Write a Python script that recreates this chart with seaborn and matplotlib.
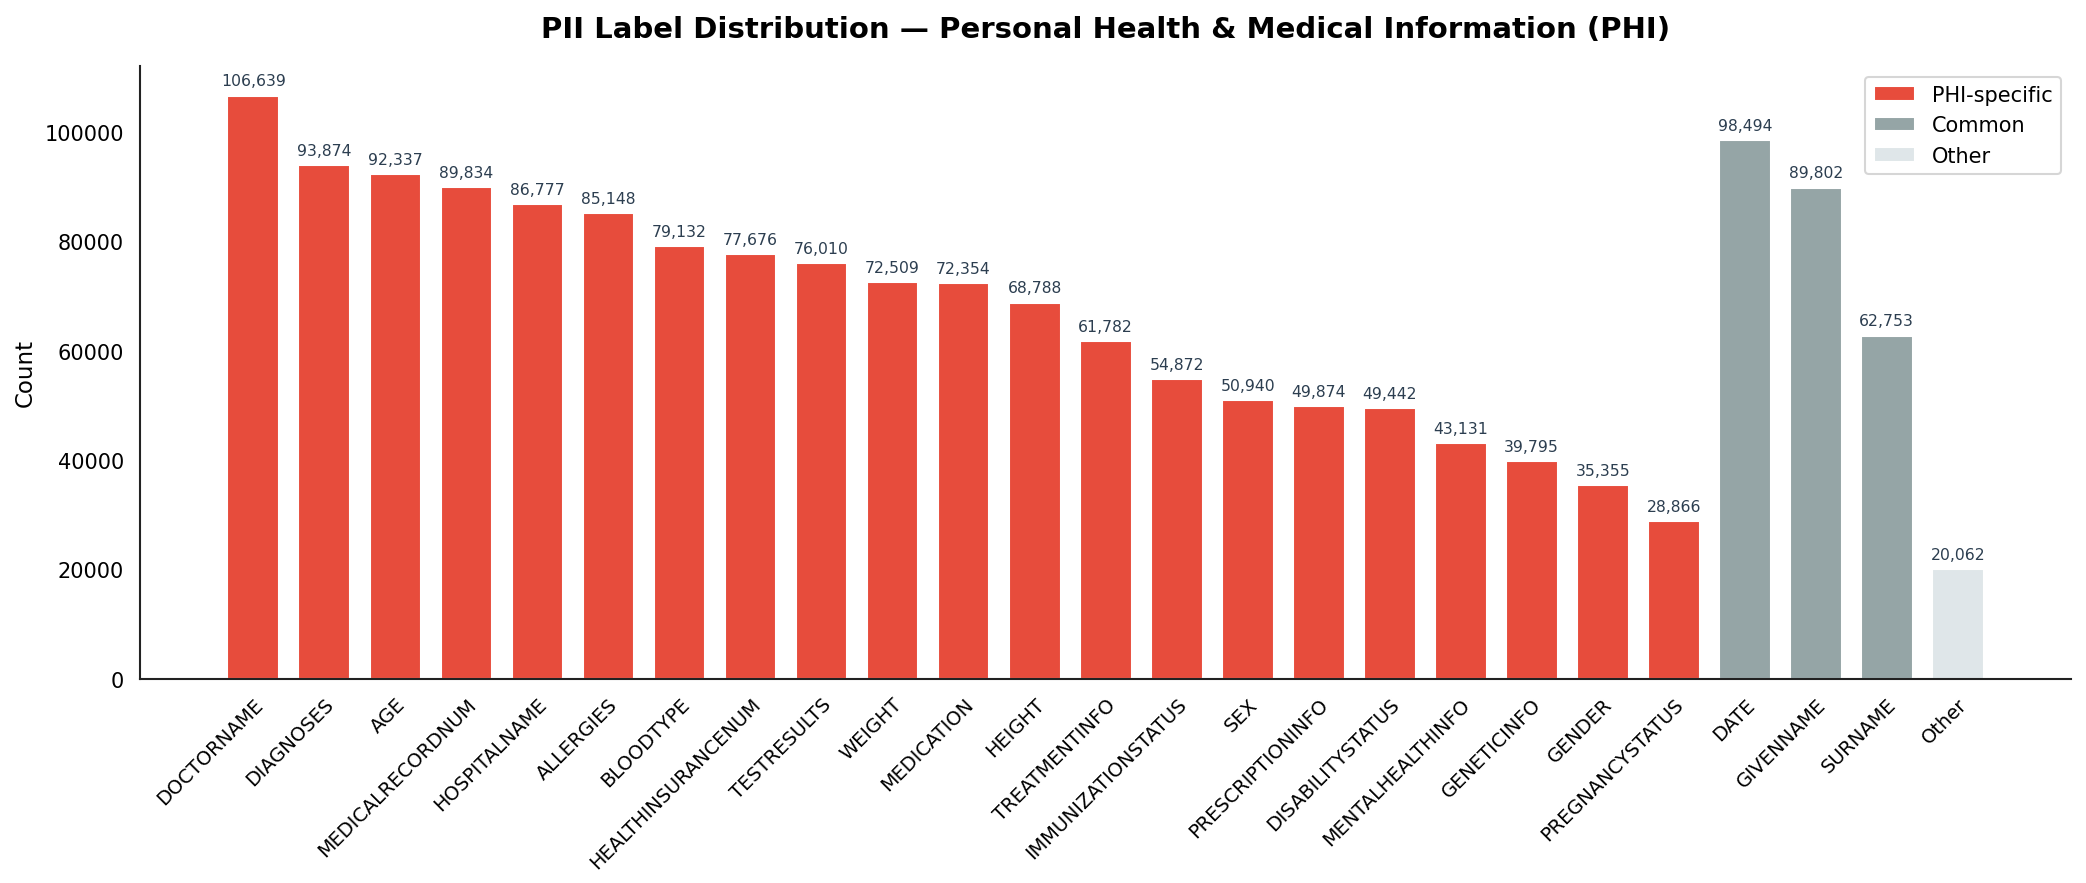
import matplotlib
matplotlib.use("Agg")
import matplotlib.pyplot as plt
import seaborn as sns
import pandas as pd

labels = ["DOCTORNAME", "DIAGNOSES", "AGE", "MEDICALRECORDNUM", "HOSPITALNAME", "ALLERGIES",
          "BLOODTYPE", "HEALTHINSURANCENUM", "TESTRESULTS", "WEIGHT", "MEDICATION", "HEIGHT",
          "TREATMENTINFO", "IMMUNIZATIONSTATUS", "SEX", "PRESCRIPTIONINFO", "DISABILITYSTATUS",
          "MENTALHEALTHINFO", "GENETICINFO", "GENDER", "PREGNANCYSTATUS", "DATE", "GIVENNAME",
          "SURNAME", "Other"]
counts = [106639, 93874, 92337, 89834, 86777, 85148, 79132, 77676, 76010, 72509, 72354, 68788,
          61782, 54872, 50940, 49874, 49442, 43131, 39795, 35355, 28866, 98494, 89802, 62753, 20062]
groups = ["PHI-specific"] * 21 + ["Common"] * 3 + ["Other"]
palette = {"PHI-specific": "#e74c3c", "Common": "#95a5a6", "Other": "#dfe6e9"}

df = pd.DataFrame({"label": labels, "count": counts, "group": groups})

sns.set_style("white")
plt.rcParams["font.family"] = ["DejaVu Sans"]
plt.rcParams["text.color"] = "black"
plt.rcParams["axes.labelcolor"] = "black"
plt.rcParams["xtick.color"] = "black"
plt.rcParams["ytick.color"] = "black"

fig, ax = plt.subplots(figsize=(13.907, 5.893), dpi=150)
fig.subplots_adjust(left=0.067, right=0.993, top=0.924, bottom=0.231)

sns.barplot(data=df, x="label", y="count", hue="group", palette=palette, dodge=False,
            width=0.73, saturation=1, ax=ax, order=labels,
            hue_order=["PHI-specific", "Common", "Other"])

for i, v in enumerate(counts):
    ax.text(i, v + 1300, f"{v:,}", ha="center", va="bottom", fontsize=7.5, color="#2c3e50")

ax.set_xlim(-1.6, 25.6)
ax.set_ylim(0, 112000)
ax.set_xlabel("")
ax.set_ylabel("Count", fontsize=11)
ax.set_title("PII Label Distribution \u2014 Personal Health & Medical Information (PHI)",
             fontsize=14, fontweight="bold", pad=14)
ax.tick_params(axis="x", labelsize=9.3, length=4, width=1, colors="black")
ax.tick_params(axis="y", labelsize=10, length=4, width=1, colors="black")
ax.tick_params(axis="both", color="#222222")
plt.setp(ax.get_xticklabels(), rotation=45, ha="right", rotation_mode="anchor")
sns.despine(ax=ax)
for s in ["left", "bottom"]:
    ax.spines[s].set_color("#222222")
    ax.spines[s].set_linewidth(1.0)
ax.legend(loc="upper right", fontsize=10, title=None, frameon=True)

fig.savefig("out.png", dpi=150)
